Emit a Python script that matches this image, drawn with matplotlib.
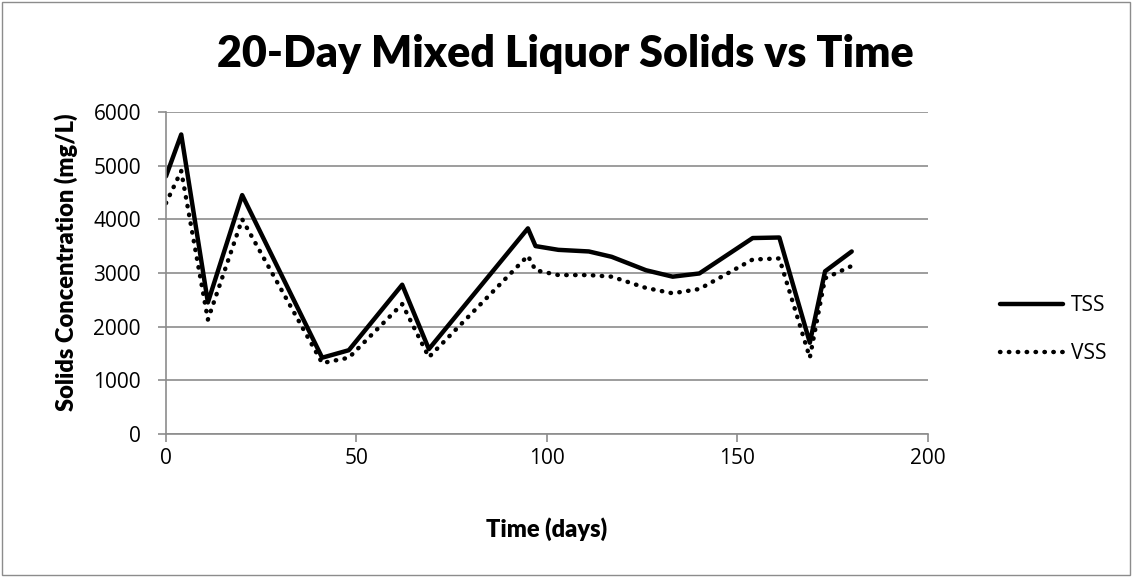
import matplotlib
matplotlib.use("Agg")
import matplotlib.pyplot as plt

plt.rcParams['font.family'] = ['Lato', 'DejaVu Sans']

# data
days = [0, 4, 11, 20, 41, 48, 62, 69, 95, 97, 103, 111, 117, 126, 133, 140, 154, 161, 169, 173, 180]
tss = [4800, 5580, 2450, 4450, 1420, 1560, 2780, 1580, 3830, 3500, 3430, 3400, 3300, 3050, 2930, 2990, 3650, 3660, 1700, 3030, 3400]
vss = [4300, 4900, 2130, 4000, 1320, 1420, 2420, 1430, 3320, 3050, 2960, 2960, 2930, 2720, 2620, 2700, 3250, 3270, 1420, 2900, 3130]

fig = plt.figure(figsize=(11.33, 5.77), dpi=100)
ax = fig.add_axes([0.1465, 0.248, 0.6725, 0.558])

ax.plot(days, tss, color='black', lw=3.2, solid_capstyle='round', label='TSS')
ax.plot(days, vss, color='black', lw=3.2, linestyle=(0, (0.1, 1.9)), dash_capstyle='round', label='VSS')

ax.set_xlim(0, 200)
ax.set_ylim(0, 6000)
ax.set_xticks(range(0, 201, 50))
ax.set_yticks(range(0, 6001, 1000))
ax.yaxis.grid(True, color='#8c8c8c', lw=1.2)
ax.set_axisbelow(True)
for s in ['top', 'right']:
    ax.spines[s].set_visible(False)
for s in ['left', 'bottom']:
    ax.spines[s].set_color('#8c8c8c')
    ax.spines[s].set_linewidth(1.2)
ax.tick_params(colors='#8c8c8c', labelcolor='black', length=6, width=1.2)
ax.tick_params(axis='y', pad=12)
ax.tick_params(axis='x', pad=4)
for lab in ax.get_xticklabels() + ax.get_yticklabels():
    lab.set_fontfamily('Open Sans')
    lab.set_fontsize(15)

ax.set_title('20-Day Mixed Liquor Solids vs Time', fontsize=31, fontweight='heavy', pad=32, x=0.524)
ax.set_xlabel('Time (days)', fontsize=17, fontweight='heavy', labelpad=35)
ax.set_ylabel('Solids Concentration (mg/L)', fontsize=17, fontweight='heavy', labelpad=11)
ax.yaxis.label.set_y(0.534)

ax.legend(loc='center left', bbox_to_anchor=(1.07, 0.323), frameon=False,
          prop={'family': 'Open Sans', 'size': 15},
          handlelength=3.0, labelspacing=1.3, handletextpad=0.4)

# outer border
fig.patches.append(plt.Rectangle((0.002, 0.003), 0.995, 0.993, transform=fig.transFigure,
                                 fill=False, edgecolor='#8c8c8c', lw=1))

fig.savefig('out.png', dpi=100)
